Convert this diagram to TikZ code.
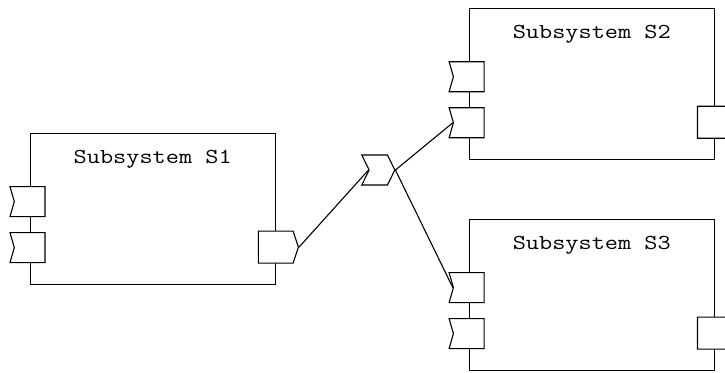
\documentclass[tikz,border=0pt]{standalone}
\usepackage{graphicx}
\usepackage{tikz}
\usetikzlibrary{shapes}
\usetikzlibrary{shapes.symbols}
\newcommand{\wide}[1]{\scalebox{1.2}[1]{#1}}
\tikzstyle{box} = [rectangle, draw=black, line width=1.1pt, minimum width=245pt, minimum height=151pt, inner sep=0]
\tikzstyle{title} = [draw=none, anchor=base, font=\ttfamily\fontsize{21.3}{26}\selectfont]
\tikzstyle{inport} = [signal, draw=black, fill=white, line width=1.1pt, signal from=west, signal to=nowhere, signal pointer angle=148, minimum width=35pt, minimum height=30pt, inner sep=0]
\tikzstyle{outport} = [signal, draw=black, fill=white, line width=1.1pt, signal from=nowhere, signal to=east, signal pointer angle=143, minimum width=40pt, minimum height=32pt, inner sep=0]

\begin{document}
\begin{tikzpicture}[x=1pt, y=-1pt]
\useasboundingbox (0,0) rectangle (725,372);
% subsystem S1
\node [box] (S1) at (152.7, 208.7) {};
\node [title] (T1) at ([yshift=-31pt]S1.north) {\wide{Subsystem S1}};
\node [inport] (S1i1) at ([yshift=-69pt]S1.north west) {};
\node [inport] (S1i2) at ([yshift=-115pt]S1.north west) {};
\node [outport] (S1o) at ([yshift=-114.5pt]S1.north east) {};
% subsystem S2
\node [box] (S2) at (591.8, 83.8) {};
\node [title] (T2) at ([yshift=-31pt]S2.north) {\wide{Subsystem S2}};
\node [inport] (S2i1) at ([yshift=-69pt]S2.north west) {};
\node [inport] (S2i2) at ([yshift=-115pt]S2.north west) {};
\node [outport] (S2o) at ([yshift=-114.5pt]S2.north east) {};
% subsystem S3
\node [box] (S3) at (591.8, 294.7) {};
\node [title] (T3) at ([yshift=-31pt]S3.north) {\wide{Subsystem S3}};
\node [inport] (S3i1) at ([yshift=-69pt]S3.north west) {};
\node [inport] (S3i2) at ([yshift=-115pt]S3.north west) {};
\node [outport] (S3o) at ([yshift=-114.5pt]S3.north east) {};
% connector
\node [signal, draw=black, fill=white, line width=1.1pt, signal from=west, signal to=east, signal pointer angle=128, minimum width=33pt, minimum height=30pt, inner sep=0] (C) at (378.3, 170) {};
\draw [-, line width=1.1pt] (S1o.east) to (C.west);
\draw [-, line width=1.1pt] (C.east) to (S2i2.west);
\draw [-, line width=1.1pt] (C.east) to (S3i1.west);
\end{tikzpicture}
\end{document}
